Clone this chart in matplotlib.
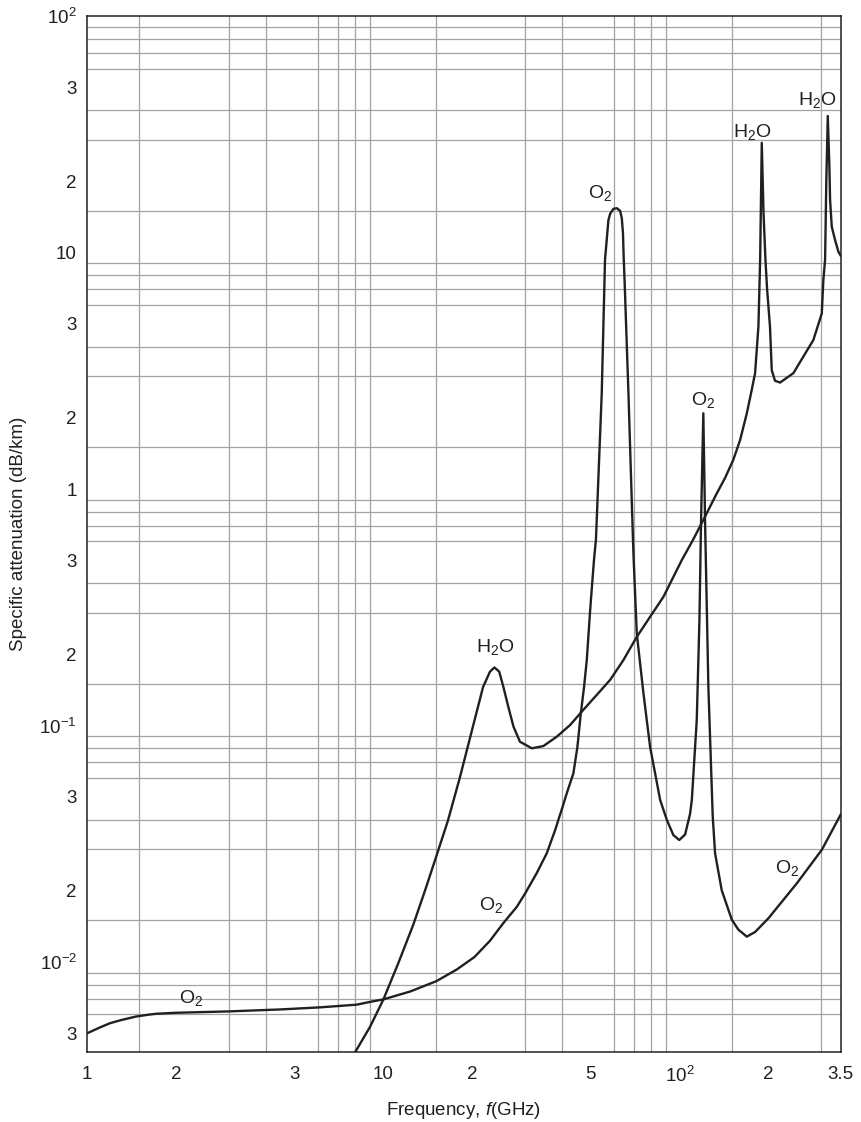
import matplotlib.pyplot as plt
from matplotlib.ticker import FixedLocator, FixedFormatter, NullFormatter

plt.rcParams['font.family'] = ['Liberation Sans', 'DejaVu Sans']
plt.rcParams['mathtext.fontset'] = 'custom'
plt.rcParams['mathtext.rm'] = 'Liberation Sans'
plt.rcParams['mathtext.it'] = 'Liberation Sans:italic'
plt.rcParams['mathtext.default'] = 'regular'

# oxygen absorption (GHz, dB/km)
o2_freq = [1, 1.1, 1.193, 1.3, 1.46, 1.6, 1.706, 1.994, 2.99, 4.48, 6.11, 8.12, 9.01, 10,
           12.3, 15.1, 17.7, 20.3, 22.9, 25.4, 28.2, 30.1, 32.9, 35.6, 38.0,
           39.0, 40.3, 41.6, 43.8, 45.2, 46.4, 47.6, 48.6, 49.9, 51.4, 52.2,
           54.6, 56.0, 57.5, 58.3, 59.8, 61.4, 63.0, 63.8, 64.4, 64.8, 65.2,
           67.2, 69.6, 70.0, 71.7, 75.5, 79.5, 86.0, 90.5, 95.3, 99.8, 104.4,
           108.5, 110, 114.3, 116.7, 118.2, 120.3, 121.9, 125.1, 129.4, 131.8,
           138.8, 150.1, 158, 168.7, 180, 199.5, 248.8, 302.2, 350]
o2_atten = [0.0050, 0.00528, 0.00551, 0.00568, 0.00588, 0.00598, 0.00604, 0.0061, 0.00618, 0.0063,
            0.00643, 0.0066, 0.00678, 0.00695,
            0.0075, 0.0083, 0.0093, 0.0105, 0.0123, 0.0146, 0.0171, 0.0195, 0.0237, 0.0288, 0.0361,
            0.040, 0.0454, 0.0517, 0.0628, 0.0814, 0.1126, 0.146, 0.189, 0.308, 0.50, 0.613,
            2.54, 9.3, 13.7, 14.6, 15.3, 15.4, 15.0, 14.0, 12.1, 9.3, 7.65,
            2.54, 0.613, 0.50, 0.245, 0.137, 0.0814, 0.0484, 0.040, 0.0344, 0.0328, 0.0346,
            0.0423, 0.0484, 0.1055, 0.279, 0.74, 2.09, 0.74, 0.146, 0.0414, 0.0288,
            0.0201, 0.0151, 0.0137, 0.0128, 0.0134, 0.0153, 0.0215, 0.0298, 0.042]

# water vapour absorption (GHz, dB/km)
h2o_freq = [8.02, 9.01, 10, 11.23, 12.6, 13.8, 15.1, 16.5, 18.1, 19.6,
            21.7, 22.9, 23.7, 24.6, 25.4, 26.4, 27.5, 28.9, 31.7, 34.7, 38.5,
            42.7, 47.3, 52.5, 58.3, 64.6, 71.7, 79.5, 88.2, 101.7, 111.3, 120.3,
            133.6, 142.4, 151.9, 160.1, 168.7, 175, 179.9, 184.6, 187.1, 189.5,
            192, 195, 197.5, 202, 204.8, 210, 218.5, 242.3, 261.8, 283.1, 302.2,
            305.9, 310, 313, 316.6, 320.6, 322.3, 326.6, 335, 343.9, 350]
h2o_atten = [0.00415, 0.00532, 0.00695, 0.0099, 0.01433, 0.01996, 0.0281, 0.0395, 0.060, 0.0885,
             0.1455, 0.169, 0.176, 0.169, 0.146, 0.120, 0.0988, 0.0854, 0.0801, 0.0819, 0.0897,
             0.1005, 0.1164, 0.1346, 0.156, 0.189, 0.237, 0.288, 0.350, 0.50, 0.613, 0.74,
             0.959, 1.113, 1.33, 1.61, 2.09, 2.6, 3.09, 4.86, 9.3, 29.1,
             15, 9.3, 7.0, 4.86, 3.18, 2.87, 2.82, 3.09, 3.63, 4.27, 5.53,
             7.65, 9.3, 20, 37.8, 23, 16.7, 12.85, 11.3, 10.08, 9.7]

x_ticks = [1, 2, 5, 10, 20, 50, 100, 200, 350]
x_ticklabels = ['1', '2', '3', '10', '2', '5', '10$^2$', '2', '3.5']
y_ticks = [100, 50, 20, 10, 5, 2, 1, 0.5, 0.2, 0.1, 0.05, 0.02, 0.01, 0.005]
y_ticklabels = ['10$^2$', '3', '2', '10', '3', '2', '1', '3', '2',
                '10$^{-1}$', '3', '2', '10$^{-2}$', '3']

grid_steps = [1, 1.5, 2, 3, 4, 5, 6, 7, 8, 9]
x_grid = [d * s for d in (1, 10) for s in grid_steps] + [100, 150, 200, 300]
y_grid = ([d * s for d in (0.01, 0.1, 1, 10) for s in grid_steps] + [100]
          + [0.005, 0.006, 0.007, 0.008, 0.009])

ink = '#231f20'

fig = plt.figure(figsize=(8.61, 11.22), dpi=100)
ax = fig.add_axes([0.1014, 0.0621, 0.8750, 0.9236])
ax.set_xscale('log')
ax.set_yscale('log')
ax.set_xlim(1, 350)
ax.set_ylim(0.00415, 100)

ax.xaxis.set_major_locator(FixedLocator(x_ticks))
ax.xaxis.set_major_formatter(FixedFormatter(x_ticklabels))
ax.yaxis.set_major_locator(FixedLocator(y_ticks))
ax.yaxis.set_major_formatter(FixedFormatter(y_ticklabels))
ax.xaxis.set_minor_locator(FixedLocator(x_grid))
ax.yaxis.set_minor_locator(FixedLocator(y_grid))
ax.xaxis.set_minor_formatter(NullFormatter())
ax.yaxis.set_minor_formatter(NullFormatter())
ax.grid(which='minor', color='#a3a3a3', lw=0.9)
ax.grid(which='major', visible=False)
ax.tick_params(which='both', length=0, labelsize=13.5, colors=ink)
ax.tick_params(axis='x', pad=9.5)
ax.tick_params(axis='y', pad=7.5)
ax.set_axisbelow(True)
for sp in ax.spines.values():
    sp.set_color(ink)
    sp.set_linewidth(1.1)

ax.plot(o2_freq, o2_atten, color=ink, lw=1.7, solid_joinstyle='round')
ax.plot(h2o_freq, h2o_atten, color=ink, lw=1.7, solid_joinstyle='round')

# line labels
labels = [('O$_2$', 2.25, 0.00702), ('O$_2$', 23.1, 0.0174), ('O$_2$', 230.7, 0.0249),
          ('H$_2$O', 23.9, 0.2155), ('O$_2$', 53.9, 17.9), ('O$_2$', 120.1, 2.38),
          ('H$_2$O', 175.7, 32.3), ('H$_2$O', 291.2, 44.2)]
for txt, lx, ly in labels:
    ax.text(lx, ly, txt, fontsize=14, color=ink, ha='center', va='center')

ax.set_xlabel(r'Frequency, $\mathit{f}$(GHz)', fontsize=13.5, color=ink)
ax.set_ylabel('Specific attenuation (dB/km)', fontsize=13.5, color=ink)
ax.xaxis.set_label_coords(0.5, -0.046)
ax.yaxis.set_label_coords(-0.080, 0.5)

fig.savefig('out.png', dpi=100)
